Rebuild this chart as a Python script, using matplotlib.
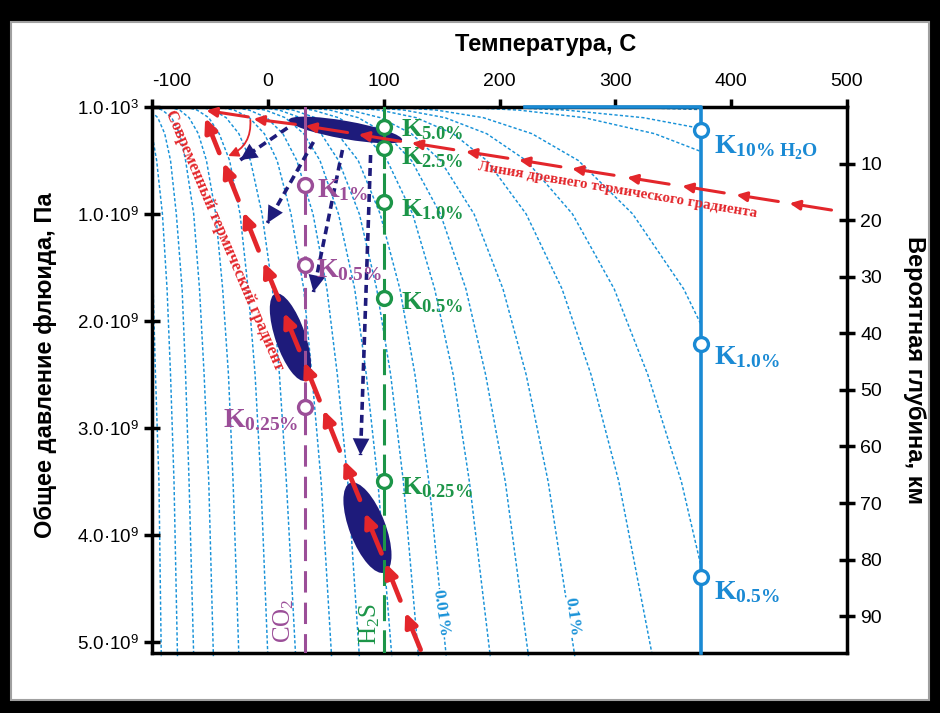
import matplotlib
matplotlib.use('Agg')
import matplotlib.pyplot as plt
from matplotlib.patches import Rectangle, Ellipse, FancyArrowPatch
from matplotlib.transforms import ScaledTranslation

plt.rcParams['font.family'] = ['Liberation Sans', 'DejaVu Sans']
plt.rcParams['mathtext.fontset'] = 'custom'
plt.rcParams['mathtext.rm'] = 'Liberation Serif'
plt.rcParams['mathtext.it'] = 'Liberation Serif:italic'
plt.rcParams['mathtext.bf'] = 'Liberation Serif:bold'
plt.rcParams['mathtext.sf'] = 'Liberation Sans'

# pressure in 1e9 Pa, temperature in C
iso_p = [0, 0.03, 0.1, 0.25, 0.5, 1.0, 1.7, 2.5, 3.5, 5.13]
iso_t = [
    [-126, -121, -116, -111, -107, -103, -99, -97, -94, -92],
    [-117, -111, -106, -100, -96, -91, -87, -84, -81, -78],
    [-109, -102, -95, -89, -84, -79, -74, -71, -68, -64],
    [-98, -91, -83, -76, -71, -64, -59, -55, -51, -47],
    [-85, -76, -68, -60, -53, -45, -39, -34, -30, -25],
    [-71, -61, -51, -42, -33, -24, -17, -11, -6, 0],
    [-59, -47, -36, -25, -15, -5, 4, 10, 16, 24],
    [-43, -29, -16, -3, 8, 20, 31, 38, 46, 55],
    [-31, -16, -1, 13, 25, 39, 51, 60, 69, 79],
    [-19, -2, 15, 31, 45, 61, 75, 85, 95, 107],
    [-8, 10, 28, 46, 61, 79, 94, 106, 117, 130],
    [2, 22, 41, 60, 78, 97, 114, 127, 139, 154],
    [17, 39, 61, 83, 103, 125, 144, 160, 174, 192],
    [30, 54, 78, 102, 124, 149, 171, 188, 205, 225],
    [44, 71, 97, 124, 149, 178, 203, 223, 242, 265],
    [66, 97, 128, 160, 189, 223, 254, 279, 303, 332],
    [84, 118, 153, 189, 223, 263, 299, 328, 357, 392],
    [107, 146, 186, 228, 268, 315, 359, 395, 430, 475],
    [165, 217, 273, 334, 394, 467, 538, 598, 658, 737],
    [197, 258, 324, 398, 472, 566, 656, 736, 818, 928],
    [298, 391, 497, 625, 762, 954, 1158, 1356, 1580, 1924],
]
iso_lab = ['0.01%', '0.1%']
iso_lab_t = [149.5, 262.7]
iso_lab_p = [4.73, 4.76]

co2_t, h2s_t, h2o_t = 32, 100, 374
co2_k_p = [0.73, 1.48, 2.80]
co2_k_lab = ['1\\%', '0.5\\%', '0.25\\%']
co2_lab_t = [42.8, 42.0, 26.4]
co2_lab_p = [0.776, 1.523, 2.925]
h2s_k_p = [0.19, 0.38, 0.89, 1.78, 3.49]
h2s_k_lab = ['5.0\\%', '2.5\\%', '1.0\\%', '0.5\\%', '0.25\\%']
h2s_lab_p = [0.215, 0.47, 0.963, 1.832, 3.561]
h2o_k_p = [0.215, 2.21, 4.39]
h2o_k_lab = ['10\\%\\ H_2O', '1.0\\%', '0.5\\%']
h2o_lab_p = [0.383, 2.336, 4.533]

# modern gradient arrows (tail -> head)
now_t0 = [131.9, 114.4, 98.1, 79.5, 62.0, 44.6, 27.1, 9.5, -8.0, -25.4, -41.9]
now_p0 = [5.07, 4.61, 4.17, 3.67, 3.21, 2.74, 2.27, 1.80, 1.34, 0.87, 0.43]
now_t1 = [118.6, 101.5, 83.7, 65.5, 48.0, 31.2, 13.8, -3.7, -21.2, -38.3, -54.1]
now_p1 = [4.72, 4.26, 3.79, 3.30, 2.83, 2.38, 1.92, 1.45, 0.98, 0.52, 0.10]
# ancient gradient arrows
old_t0 = [486.6, 440.7, 394.0, 346.4, 298.9, 253.0, 207.2, 160.5, 114.6, 68.8, 23.8, -16.9]
old_p0 = [0.963, 0.883, 0.803, 0.721, 0.638, 0.559, 0.479, 0.399, 0.321, 0.239, 0.162, 0.093]
old_t1 = [450.3, 404.4, 357.7, 310.1, 262.5, 216.7, 170.9, 124.1, 78.3, 32.4, -12.5, -53.2]
old_p1 = [0.900, 0.821, 0.739, 0.658, 0.576, 0.495, 0.417, 0.336, 0.258, 0.177, 0.112, 0.033]
# navy dashed arrows
nv_t0 = [16.9, 39.4, 64.4, 88.7]
nv_p0 = [0.196, 0.327, 0.402, 0.449]
nv_t1 = [-23.8, -0.4, 39.4, 80.0]
nv_p1 = [0.495, 1.084, 1.729, 3.252]
# navy ellipses: centre, size in px, angle
el_t = [67, 19.5, 86]
el_p = [0.215, 2.15, 3.93]
el_w = [115, 92, 96]
el_h = [18, 30, 36]
el_a = [-10, 109, 111]

ISO = '#1892d8'
H2O = '#1a8ad4'
GREEN = '#1c9548'
PURPLE = '#9b4e98'
NAVY = '#1e1b7b'
RED = '#e3262b'
SERIF = ['Liberation Serif', 'DejaVu Serif']
NARROW = ['Liberation Sans Narrow', 'Liberation Sans', 'DejaVu Sans']

fig = plt.figure(figsize=(9.4, 7.13), dpi=100)
fig.patch.set_facecolor('black')
fig.add_artist(Rectangle((0.0117, 0.0182), 0.9766, 0.951, transform=fig.transFigure,
                         fc='white', ec='#a0a0a0', lw=1.5, zorder=-1))
ax = fig.add_axes([0.1617, 0.0842, 0.7394, 0.7658])
ax.set_facecolor('white')

clip = Rectangle((-100, -1), 100 + h2o_t, 10, transform=ax.transData)
for row in iso_t:
    ln, = ax.plot(row, iso_p, color=ISO, lw=1.05, dashes=(2.2, 1.5), zorder=1.5)
    ln.set_clip_path(clip)
for t, p, s in zip(iso_lab_t, iso_lab_p, iso_lab):
    ax.text(t, p, s, color=ISO, fontsize=12.5, family=SERIF, fontweight='bold',
            rotation=-82, ha='center', va='center', rotation_mode='anchor',
            bbox=dict(fc='white', ec='none', pad=0.3), zorder=2)

for t, p, w, h, a in zip(el_t, el_p, el_w, el_h, el_a):
    tr = fig.dpi_scale_trans + ScaledTranslation(t, p, ax.transData)
    ax.add_patch(Ellipse((0, 0), w / 100, h / 100, angle=a, transform=tr,
                         fc=NAVY, ec='none', zorder=3))

# critical lines
ax.plot([co2_t, co2_t], [0, 0.58], color=PURPLE, lw=2.2, zorder=4)
ax.plot([co2_t, co2_t], [0.80, 5.10], color=PURPLE, lw=2.2, dashes=(7, 3.3), zorder=4)
ax.plot([h2s_t, h2s_t], [0, 0.56], color=GREEN, lw=2.2, zorder=4)
ax.plot([h2s_t, h2s_t], [0.62, 5.10], color=GREEN, lw=2.2, dashes=(8.5, 3), zorder=4)
ax.plot([222, h2o_t, h2o_t], [0, 0, 5.10], color=H2O, lw=2.6, zorder=6, clip_on=False)

ax.plot([co2_t] * len(co2_k_p), co2_k_p, 'o', ms=10, mfc='white', mec=PURPLE, mew=2.4, zorder=7)
ax.plot([h2s_t] * len(h2s_k_p), h2s_k_p, 'o', ms=10, mfc='white', mec=GREEN, mew=2.4, zorder=7)
ax.plot([h2o_t] * len(h2o_k_p), h2o_k_p, 'o', ms=10, mfc='white', mec=H2O, mew=2.4, zorder=7)

for i, (t, p, s) in enumerate(zip(co2_lab_t, co2_lab_p, co2_k_lab)):
    ax.text(t, p, 'K$_{\\mathbf{' + s + '}}$', color=PURPLE, fontsize=20, family=SERIF,
            fontweight='bold', ha='right' if i == 2 else 'left', va='center', zorder=9)
for p, s in zip(h2s_lab_p, h2s_k_lab):
    ax.text(114.6, p, 'K$_{\\mathbf{' + s + '}}$', color=GREEN, fontsize=19, family=SERIF,
            fontweight='bold', ha='left', va='center', zorder=9)
for p, s in zip(h2o_lab_p, h2o_k_lab):
    ax.text(385.4, p, 'K$_{\\mathbf{' + s + '}}$', color=H2O, fontsize=20, family=SERIF,
            fontweight='bold', ha='left', va='center', zorder=9)
ax.text(14, 4.80, 'CO$_2$', color=PURPLE, fontsize=18, family=SERIF, rotation=90,
        ha='center', va='center', zorder=9)
ax.text(87.7, 4.83, 'H$_2$S', color=GREEN, fontsize=18, family=SERIF, rotation=90,
        ha='center', va='center', zorder=9)

# navy dashed arrows
for t0, p0, t1, p1 in zip(nv_t0, nv_p0, nv_t1, nv_p1):
    ax.plot([t0, t1], [p0, p1], color=NAVY, lw=2.6, dashes=(2.2, 1.4), zorder=8)
    ax.add_patch(FancyArrowPatch((t0, p0), (t1, p1), arrowstyle='-|>,head_length=12,head_width=6',
                                 mutation_scale=1, lw=0, fc=NAVY, shrinkA=0, shrinkB=0, zorder=8))

# thermal gradients
for t0, p0, t1, p1 in zip(now_t0, now_p0, now_t1, now_p1):
    ax.add_patch(FancyArrowPatch((t0, p0), (t1, p1), arrowstyle='-|>,head_length=8,head_width=3.6',
                                 mutation_scale=1, lw=3.4, color=RED, shrinkA=0, shrinkB=0, zorder=9))
for t0, p0, t1, p1 in zip(old_t0, old_p0, old_t1, old_p1):
    ax.add_patch(FancyArrowPatch((t0, p0), (t1, p1), arrowstyle='-|>,head_length=6,head_width=2.8',
                                 mutation_scale=1, lw=2.2, color=RED, shrinkA=0, shrinkB=0, zorder=9))
ax.add_patch(FancyArrowPatch((-15.1, 0.121), (-34.2, 0.458), connectionstyle='arc3,rad=-0.35',
                             arrowstyle='-|>,head_length=6,head_width=3', mutation_scale=1,
                             lw=1.3, color=RED, shrinkA=0, shrinkB=0, zorder=9))
ax.text(-38, 1.243, 'Современный термический градиент', rotation=-67, color=RED,
        fontsize=12, fontweight='bold', family=SERIF, ha='center', va='center',
        rotation_mode='anchor', zorder=9)
ax.text(302, 0.775, 'Линия древнего термического градиента', rotation=-9.6, color=RED,
        fontsize=11, fontweight='bold', family=SERIF, ha='center', va='center',
        rotation_mode='anchor', zorder=9)

# axes
ax.set_xlim(-100, 500)
ax.set_ylim(5.10, 0)
ax.xaxis.set_ticks_position('top')
ax.set_xticks([-100, 0, 100, 200, 300, 400, 500])
ax.set_xticklabels(['-100', '0', '100', '200', '300', '400', '500'], family=NARROW)
ax.get_xticklabels()[0].set_ha('left')
ax.tick_params(axis='x', direction='out', length=6, width=2.5, labelsize=14, pad=6)
ax.set_yticks([0, 1, 2, 3, 4, 5])
ax.set_yticklabels(['1.0·10$^{\\mathsf{3}}$'] + ['%d.0·10$^{\\mathsf{9}}$' % i for i in range(1, 6)],
                   family=NARROW)
ax.tick_params(axis='y', direction='inout', length=11, width=2.5, labelsize=13.5, pad=4)
for s in ['left', 'top', 'bottom']:
    ax.spines[s].set_linewidth(2.5)
ax.spines['right'].set_visible(False)

ax2 = ax.twinx()
ax2.set_ylim(96.5, 0)
ax2.set_yticks(range(10, 100, 10))
ax2.set_yticklabels([str(v) for v in range(10, 100, 10)], family=NARROW)
ax2.tick_params(axis='y', direction='inout', length=11, width=2.5, labelsize=14, pad=4)
for s in ['left', 'top', 'bottom']:
    ax2.spines[s].set_visible(False)
ax2.spines['right'].set_linewidth(2.5)

fig.text(0.580, 0.937, 'Температура, C', fontsize=17, fontweight='bold', ha='center', va='center')
fig.text(0.048, 0.488, 'Общее давление флюида, Па', fontsize=17, fontweight='bold',
         rotation=90, ha='center', va='center')
fig.text(0.973, 0.481, 'Вероятная глубина, км', fontsize=17, fontweight='bold',
         rotation=270, ha='center', va='center')

fig.savefig('out.png', dpi=100, facecolor=fig.get_facecolor())
